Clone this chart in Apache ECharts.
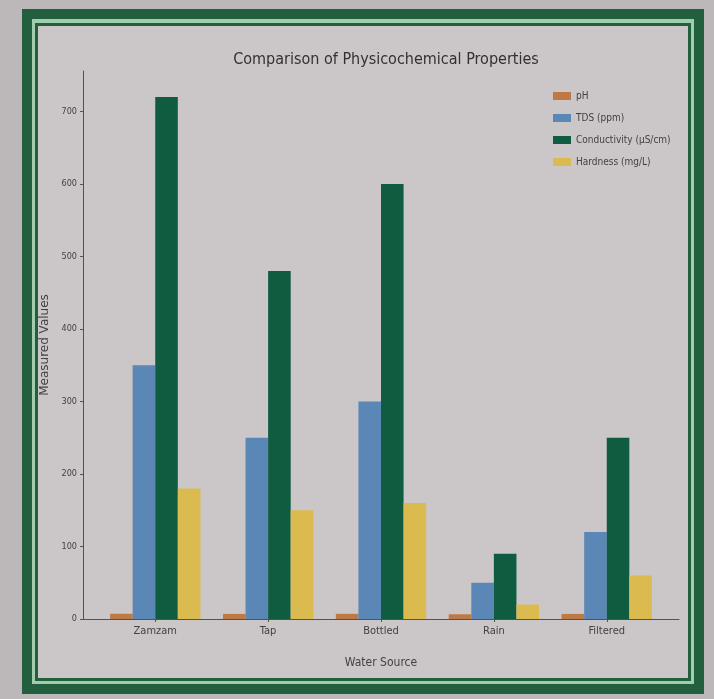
<!DOCTYPE html>
<html>
<head>
<meta charset="utf-8">
<title>Comparison of Physicochemical Properties</title>
<script src="https://cdn.jsdelivr.net/npm/echarts@6/dist/echarts.min.js"></script>
<style>
  html, body { margin: 0; padding: 0; background: #bcb8ba; }
  #chart { width: 714px; height: 699px; }
</style>
</head>
<body>
<div id="chart"></div>
<script>
// Water sources and the four measured properties
const categories = ['Zamzam', 'Tap', 'Bottled', 'Rain', 'Filtered'];
const phValues = [7.2, 7.0, 7.1, 6.5, 7.0];
const tdsValues = [350, 250, 300, 50, 120];
const conductivityValues = [720, 480, 600, 90, 250];
const hardnessValues = [180, 150, 160, 20, 60];
const seriesNames = ['pH', 'TDS (ppm)', 'Conductivity (µS/cm)', 'Hardness (mg/L)'];
const yTicks = [0, 100, 200, 300, 400, 500, 600, 700];

const palette = ['#bd7a45', '#5a87b6', '#0f5c40', '#dbbb50'];
const font = "'DejaVu Sans Condensed', 'Liberation Sans Narrow', 'DejaVu Sans', sans-serif";
const textColor = '#444044';

// Axis frame spans the bar groups plus a small margin on both sides
const xPad = 0.64;
const frameLeft = 83, frameRight = 679, frameTop = 71, frameBottom = 619;
const unit = (frameRight - frameLeft) / (categories.length - 1 + 2 * xPad);
const inset = (xPad - 0.5) * unit;

const values = [phValues, tdsValues, conductivityValues, hardnessValues];

const chart = echarts.init(document.getElementById('chart'), null, { renderer: 'canvas' });

chart.setOption({
  backgroundColor: '#bcb8ba',
  animation: false,
  textStyle: { fontFamily: font },
  graphic: [
    { type: 'rect', z: -10, shape: { x: 22, y: 9, width: 682, height: 685 }, style: { fill: '#225f3e' } },
    { type: 'rect', z: -10, shape: { x: 32, y: 19, width: 662, height: 665 }, style: { fill: '#a2ccac' } },
    { type: 'rect', z: -10, shape: { x: 35, y: 23, width: 656, height: 658 }, style: { fill: '#225f3e' } },
    { type: 'rect', z: -10, shape: { x: 38, y: 26, width: 650, height: 652 }, style: { fill: '#cbc6c8' } }
  ],
  title: {
    text: 'Comparison of Physicochemical Properties',
    left: 381,
    textAlign: 'center',
    top: 47,
    textStyle: { fontFamily: font, fontSize: 16, fontWeight: 'normal', color: '#333033' }
  },
  legend: {
    orient: 'vertical',
    left: 548,
    top: 85,
    itemWidth: 18,
    itemHeight: 8,
    itemGap: 10,
    icon: 'rect',
    data: seriesNames,
    textStyle: { fontFamily: font, fontSize: 10, color: textColor, lineHeight: 12 }
  },
  grid: [
    { left: frameLeft, right: 714 - frameRight, top: frameTop, bottom: 699 - frameBottom },
    { left: frameLeft + inset, right: 714 - frameRight + inset, top: frameTop, bottom: 699 - frameBottom }
  ],
  xAxis: [
    {
      type: 'value', gridIndex: 0,
      min: -xPad, max: categories.length - 1 + xPad,
      axisLine: { show: true, onZero: false, lineStyle: { color: '#555055', width: 1 } },
      axisTick: { show: false }, axisLabel: { show: false }, splitLine: { show: false }
    },
    {
      type: 'category', gridIndex: 1,
      data: categories,
      name: 'Water Source',
      nameLocation: 'middle',
      nameGap: 38,
      nameTextStyle: { fontFamily: font, fontSize: 12, color: textColor },
      axisLine: { show: false },
      axisTick: { show: true, alignWithLabel: true, length: 3, lineStyle: { color: '#555055' } },
      axisLabel: { fontFamily: font, fontSize: 11, color: textColor, margin: 7 }
    }
  ],
  yAxis: [
    {
      type: 'value', gridIndex: 0,
      min: 0, max: 756, interval: 100,
      name: 'Measured Values',
      nameLocation: 'middle',
      nameGap: 32,
      nameTextStyle: { fontFamily: "'DejaVu Sans', sans-serif", fontSize: 12, color: textColor },
      axisLine: { show: true, onZero: false, lineStyle: { color: '#555055', width: 1 } },
      axisTick: { show: true, length: 3, customValues: yTicks, lineStyle: { color: '#555055' } },
      axisLabel: { fontFamily: font, fontSize: 9, color: textColor, margin: 6, customValues: yTicks },
      splitLine: { show: false }
    },
    {
      type: 'value', gridIndex: 1,
      min: 0, max: 756,
      show: false, splitLine: { show: false }
    }
  ],
  series: seriesNames.map((name, i) => ({
    name: name,
    type: 'bar',
    xAxisIndex: 1,
    yAxisIndex: 1,
    data: values[i],
    barGap: '0%',
    barCategoryGap: '20%',
    itemStyle: { color: palette[i] }
  })),
  color: palette
});
</script>
</body>
</html>
